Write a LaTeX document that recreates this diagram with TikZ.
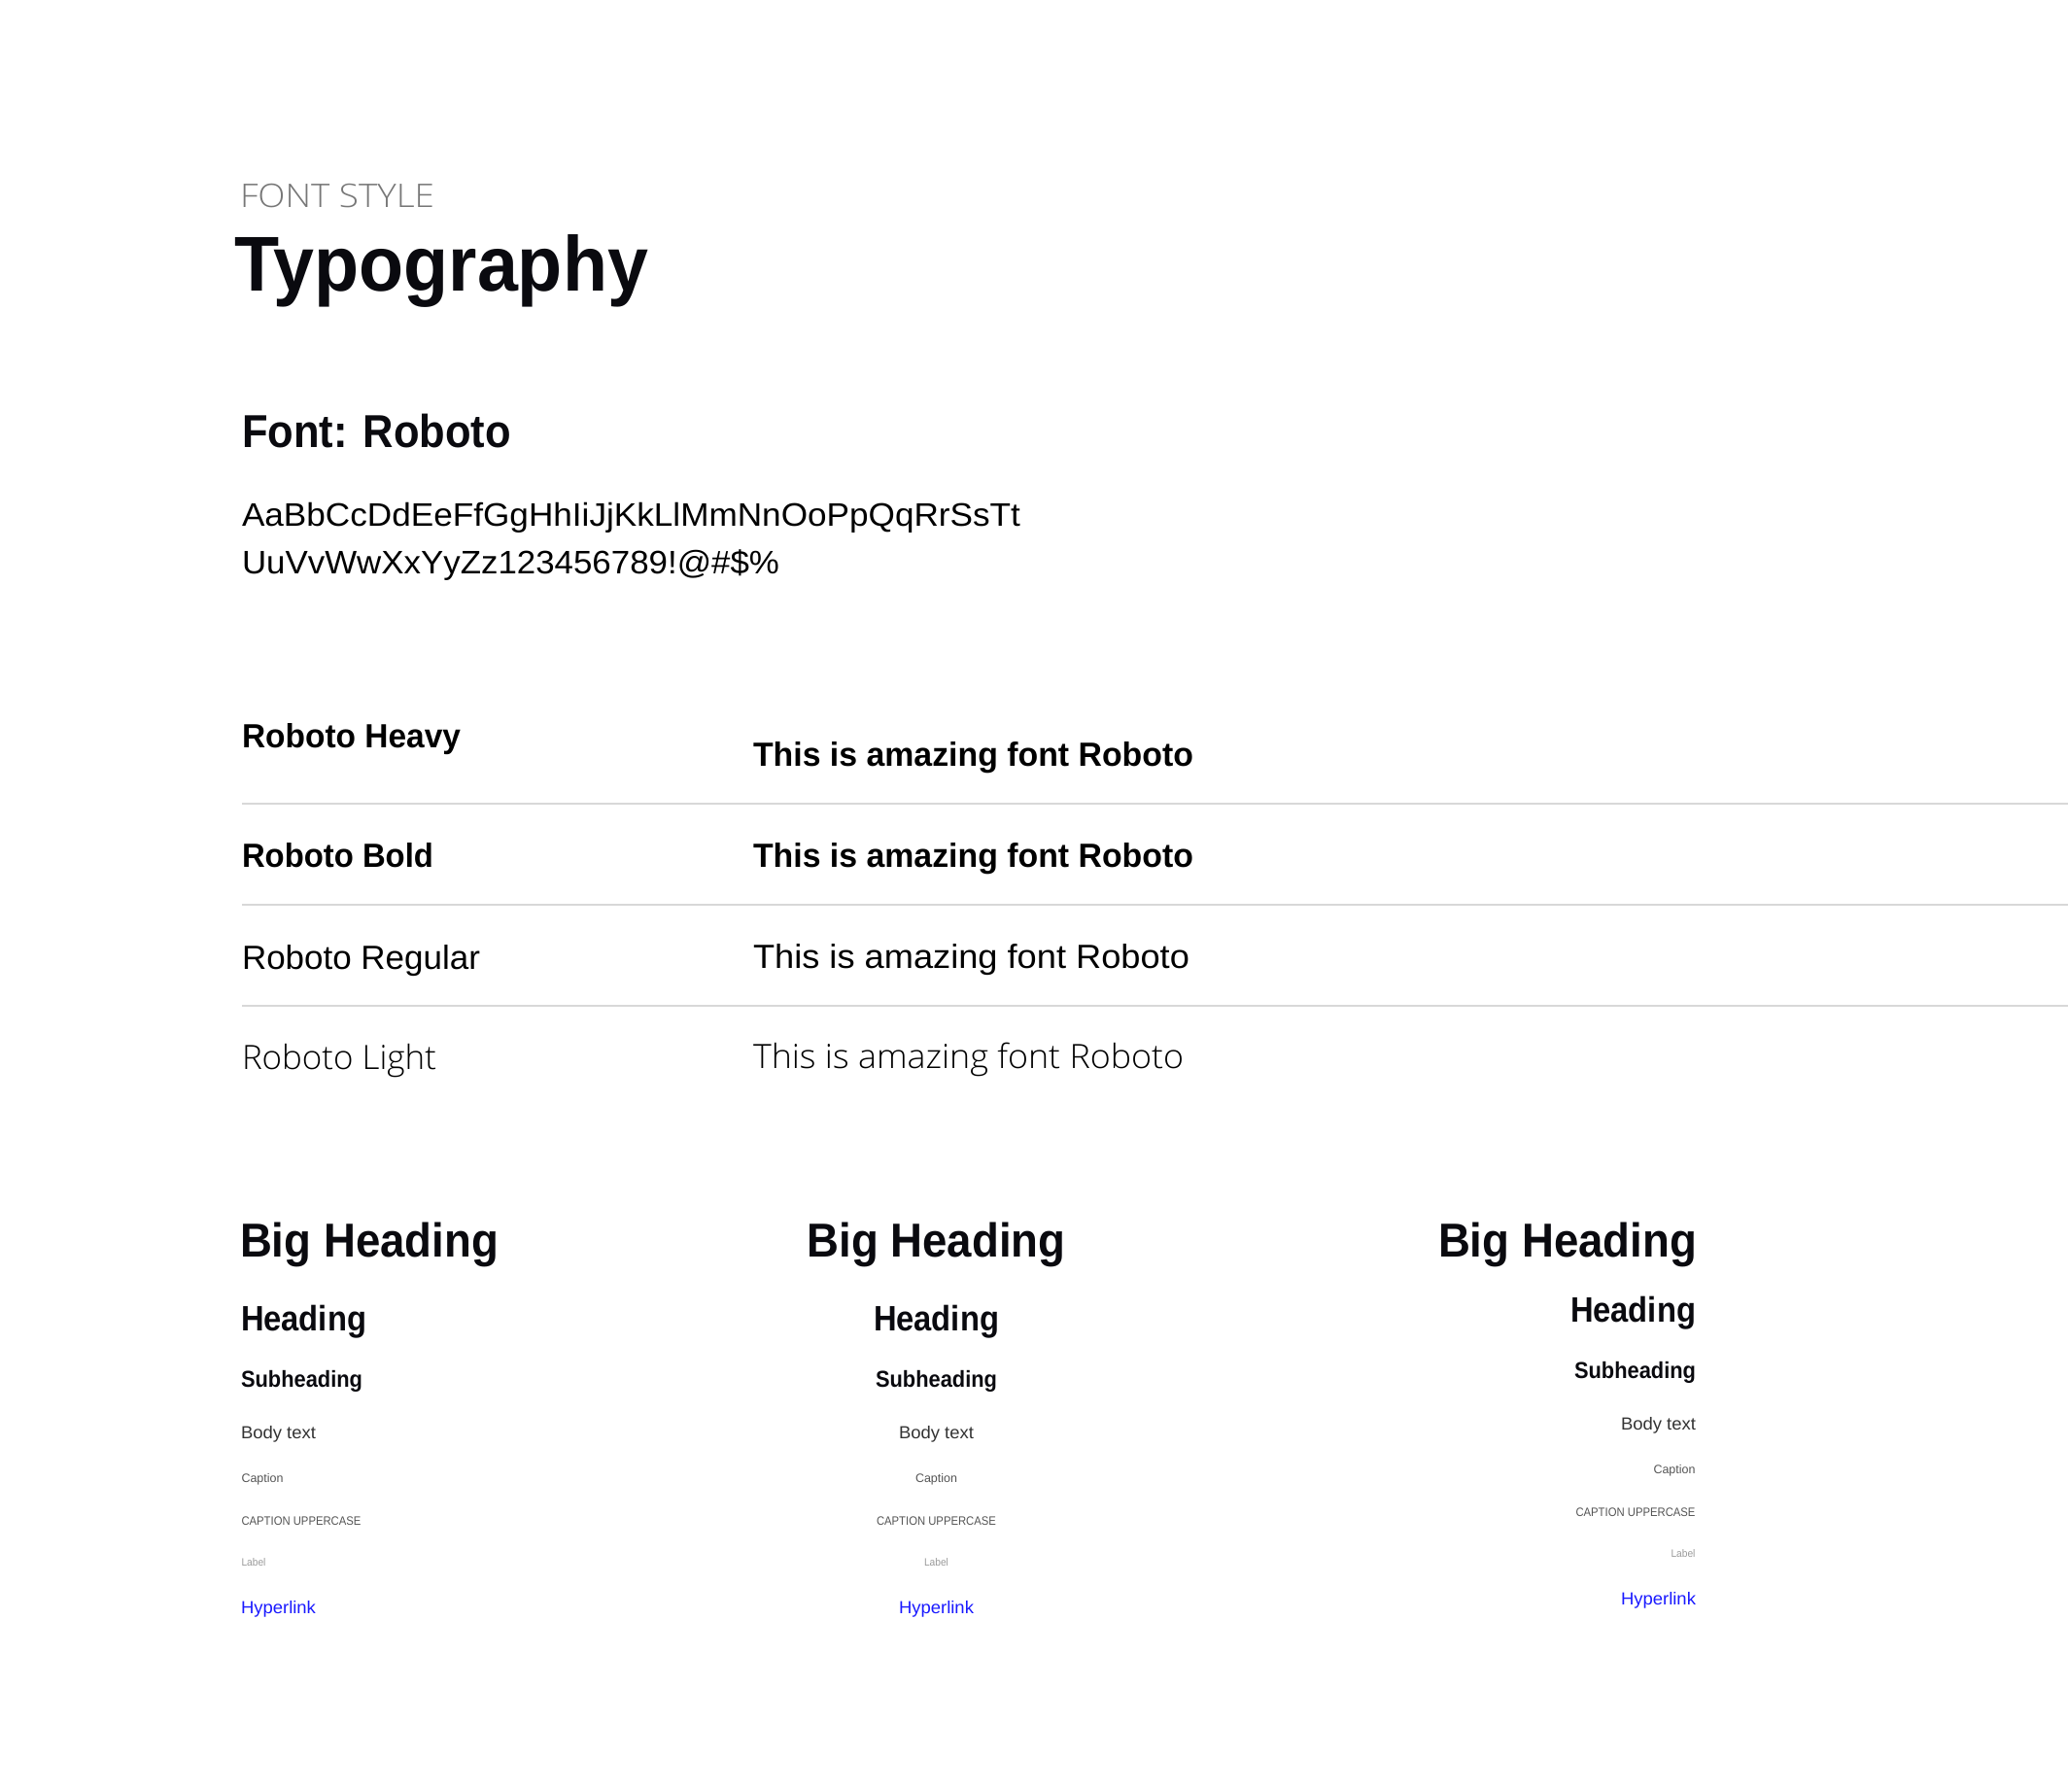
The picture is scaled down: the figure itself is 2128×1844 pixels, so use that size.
\documentclass[tikz,border=0pt]{standalone}
\usepackage{fontspec}
\setmainfont{Liberation Sans}
\newfontfamily\lightf{Open Sans Light}
\definecolor{ink}{HTML}{0A0A0F}
\definecolor{fsgray}{HTML}{777777}
\definecolor{body}{HTML}{333333}
\definecolor{capgray}{HTML}{555555}
\definecolor{labgray}{HTML}{9A9A9A}
\definecolor{rule}{HTML}{D8D8D8}
\definecolor{link}{HTML}{1A1AFF}
\newcommand\fitw[2]{%
  \setbox0=\hbox{#2}%
  \pgfmathsetmacro\fitfac{#1/\the\wd0}%
  \scalebox{\fitfac}[1]{\box0}}
\newcommand\fsz[1]{\fontsize{#1}{#1}\selectfont}
\tikzset{
  txt/.style={inner sep=0pt, outer sep=0pt, text=ink},
  lw/.style={txt, anchor=base west},
  lc/.style={txt, anchor=base},
  le/.style={txt, anchor=base east},
  sep/.style={draw=rule, line width=2pt}
}
\begin{document}
\begin{tikzpicture}[x=1pt,y=-1pt]
\useasboundingbox (0,0) rectangle (2128,1844);
\fill[white] (0,0) rectangle (2128,1844);
% header
\node[lw, text=fsgray] (fs) at (247,213) {\lightf\fsz{33.5}\fitw{200}{FONT STYLE}};
\node[lw] (typo) at (241,299) {\fsz{80}\bfseries\fitw{426}{Typography}};
\node[lw] (font) at (249,460) {\fsz{47.5}\bfseries\fitw{277}{Font: Roboto}};
\node[lw, text=black] (al1) at (249,541) {\fsz{33.5}\fitw{801}{AaBbCcDdEeFfGgHhIiJjKkLlMmNnOoPpQqRrSsTt}};
\node[lw, text=black] (al2) at (249,590) {\fsz{33.5}\fitw{553}{UuVvWwXxYyZz123456789!@\#\$\%}};
% rows
\coordinate (r1a) at (249,827); \coordinate (r1b) at (2128,827);
\coordinate (r2a) at (249,931); \coordinate (r2b) at (2128,931);
\coordinate (r3a) at (249,1035); \coordinate (r3b) at (2128,1035);
\draw[sep] (r1a) -- (r1b);
\draw[sep] (r2a) -- (r2b);
\draw[sep] (r3a) -- (r3b);
\node[lw, text=black] (hvl) at (249,769) {\fsz{34.5}\bfseries\fitw{225}{Roboto Heavy}};
\node[lw, text=black] (hvs) at (775,788) {\fsz{34.5}\bfseries\fitw{453}{This is amazing font Roboto}};
\node[lw, text=black] (bdl) at (249,892) {\fsz{34.5}\bfseries\fitw{197}{Roboto Bold}};
\node[lw, text=black] (bds) at (775,892) {\fsz{34.5}\bfseries\fitw{453}{This is amazing font Roboto}};
\node[lw, text=black] (rgl) at (249,997) {\fsz{34.5}\fitw{245}{Roboto Regular}};
\node[lw, text=black] (rgs) at (775,996) {\fsz{34.5}\fitw{449}{This is amazing font Roboto}};
\node[lw, text=black] (ltl) at (249,1100) {\lightf\fsz{34.5}\fitw{200}{Roboto Light}};
\node[lw, text=black] (lts) at (775,1099) {\lightf\fsz{34.5}\fitw{443}{This is amazing font Roboto}};
% column 1 (left aligned)
\node[lw] (a1) at (247,1293) {\fsz{49}\bfseries\fitw{266}{Big Heading}};
\node[lw] (a2) at (248,1369) {\fsz{36.3}\bfseries\fitw{129}{Heading}};
\node[lw] (a3) at (248,1427) {\fsz{23.7}\bfseries\fitw{125}{Subheading}};
\node[lw, text=body] (a4) at (248,1480) {\fsz{18}\fitw{77}{Body text}};
\node[lw, text=capgray] (a5) at (248.5,1525) {\fsz{12.5}\fitw{43}{Caption}};
\node[lw, text=capgray] (a6) at (248.5,1569) {\fsz{12.5}\fitw{123}{CAPTION UPPERCASE}};
\node[lw, text=labgray] (a7) at (248.5,1611) {\fsz{11}\fitw{25}{Label}};
\node[lw, text=link] (a8) at (248,1660) {\fsz{18}\fitw{77}{Hyperlink}};
% column 2 (centred)
\node[lc] (b1) at (963.5,1293) {\fsz{49}\bfseries\fitw{266}{Big Heading}};
\node[lc] (b2) at (963.5,1369) {\fsz{36.3}\bfseries\fitw{129}{Heading}};
\node[lc] (b3) at (963.5,1427) {\fsz{23.7}\bfseries\fitw{125}{Subheading}};
\node[lc, text=body] (b4) at (963.5,1480) {\fsz{18}\fitw{77}{Body text}};
\node[lc, text=capgray] (b5) at (963.5,1525) {\fsz{12.5}\fitw{43}{Caption}};
\node[lc, text=capgray] (b6) at (963.5,1569) {\fsz{12.5}\fitw{123}{CAPTION UPPERCASE}};
\node[lc, text=labgray] (b7) at (963.5,1611) {\fsz{11}\fitw{25}{Label}};
\node[lc, text=link] (b8) at (963.5,1660) {\fsz{18}\fitw{77}{Hyperlink}};
% column 3 (right aligned)
\node[le] (c1) at (1746,1293) {\fsz{49}\bfseries\fitw{266}{Big Heading}};
\node[le] (c2) at (1745,1360) {\fsz{36.3}\bfseries\fitw{129}{Heading}};
\node[le] (c3) at (1745,1418) {\fsz{23.7}\bfseries\fitw{125}{Subheading}};
\node[le, text=body] (c4) at (1745,1471) {\fsz{18}\fitw{77}{Body text}};
\node[le, text=capgray] (c5) at (1744.5,1516) {\fsz{12.5}\fitw{43}{Caption}};
\node[le, text=capgray] (c6) at (1744.5,1560) {\fsz{12.5}\fitw{123}{CAPTION UPPERCASE}};
\node[le, text=labgray] (c7) at (1744.5,1602) {\fsz{11}\fitw{25}{Label}};
\node[le, text=link] (c8) at (1745,1651) {\fsz{18}\fitw{77}{Hyperlink}};
\end{tikzpicture}
\end{document}
